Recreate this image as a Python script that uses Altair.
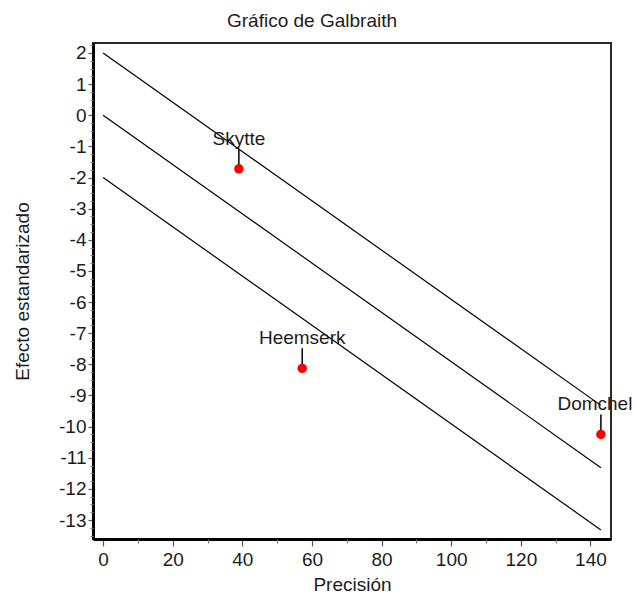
import altair as alt
import pandas as pd
import numpy as np

# Studies: precision (1/SE) and standardized effect (estimate/SE)
studies = ["Skytte", "Heemserk", "Domchel"]
precision = [39.0, 57.2, 143.0]
std_effect = [-1.72, -8.13, -10.25]

# Band offsets around the regression line through the origin
offsets = [2, 0, -2]

x_major = [0, 20, 40, 60, 80, 100, 120, 140]
x_minor = [10, 30, 50, 70, 90, 110, 130]
y_major = list(range(-13, 3))
y_minor = [v / 4 for v in range(-54, 10) if v % 4 != 0]

FONT = "Liberation Sans"
FS = 19
TXT = "#1c1c1c"
PLAIN = "datum.value + ''"  # ASCII hyphen for negative numbers

pts = pd.DataFrame({"study": studies, "prec": precision, "z": std_effect})

# Slope of the Galbraith regression line (through the origin)
p = np.array(precision)
z = np.array(std_effect)
slope = float((p * z).sum() / (p * p).sum())
pmax = float(p.max())

rows = []
for off in offsets:
    for xv in (0.0, pmax):
        rows.append({"band": str(off), "prec": xv, "z": off + slope * xv})
lines_df = pd.DataFrame(rows)

xs = alt.Scale(domain=[-2.9, 145.9], nice=False, zero=False)
ys = alt.Scale(domain=[-13.61, 2.32], nice=False, zero=False)

x_axis = alt.Axis(
    values=x_major, title="Precisión", titleFont=FONT, titleFontSize=FS,
    titleFontWeight="normal", titleColor=TXT, titlePadding=6,
    labelFont=FONT, labelFontSize=FS, labelColor=TXT, labelPadding=4,
    labelExpr=PLAIN,
    tickSize=7, tickWidth=1.2, tickColor="#555", domainWidth=3,
    domainColor="black", grid=False, orient="bottom",
)
y_axis = alt.Axis(
    values=y_major, title="Efecto estandarizado", titleFont=FONT,
    titleFontSize=FS, titleFontWeight="normal", titleColor=TXT,
    titlePadding=26, labelFont=FONT, labelFontSize=FS, labelColor=TXT,
    labelPadding=2, labelExpr=PLAIN, tickSize=5, tickWidth=1.2,
    tickColor="#555", domainWidth=3, domainColor="black", grid=False,
    orient="left",
)
x_minor_axis = alt.Axis(
    values=x_minor, labels=False, title=None, tickSize=4, tickWidth=1,
    tickColor="#777", domain=False, grid=False, orient="bottom",
)
y_minor_axis = alt.Axis(
    values=y_minor, labels=False, title=None, tickSize=3, tickWidth=1,
    tickColor="#777", domain=False, grid=False, orient="left",
)

lines = alt.Chart(lines_df).mark_line(color="black", strokeWidth=1.2).encode(
    x=alt.X("prec:Q", scale=xs, axis=x_axis),
    y=alt.Y("z:Q", scale=ys, axis=y_axis),
    detail="band:N",
)

minor = alt.Chart(pts).mark_point(opacity=0).encode(
    x=alt.X("prec:Q", scale=xs, axis=x_minor_axis),
    y=alt.Y("z:Q", scale=ys, axis=y_minor_axis),
)

leaders = alt.Chart(pts).mark_rule(
    color="black", strokeWidth=1.5, yOffset=-20, y2Offset=-2
).encode(
    x=alt.X("prec:Q", scale=xs, axis=None),
    y=alt.Y("z:Q", scale=ys, axis=None),
    y2="z:Q",
)

dots = alt.Chart(pts).mark_point(
    shape="circle", filled=True, color="#ff0000", opacity=1, size=90
).encode(
    x=alt.X("prec:Q", scale=xs, axis=None),
    y=alt.Y("z:Q", scale=ys, axis=None),
)

label_enc = dict(
    x=alt.X("prec:Q", scale=xs, axis=None),
    y=alt.Y("z:Q", scale=ys, axis=None),
    text="study:N",
)
# Labels near the right edge are nudged left so they stay on the canvas
labels_inner = alt.Chart(pts).transform_filter("datum.prec < 140").mark_text(
    font=FONT, fontSize=FS, color=TXT, dy=-30, baseline="middle"
).encode(**label_enc)
labels_edge = alt.Chart(pts).transform_filter("datum.prec >= 140").mark_text(
    font=FONT, fontSize=FS, color=TXT, dy=-30, dx=-6, baseline="middle"
).encode(**label_enc)

chart = (
    alt.layer(lines, minor, leaders, dots, labels_inner, labels_edge)
    .resolve_axis(x="independent", y="independent")
    .properties(
        width=518,
        height=496,
        autosize=alt.AutoSizeParams(type="none"),
        padding={"left": 93, "top": 43, "right": 24, "bottom": 55},
        title=alt.TitleParams(
            "Gráfico de Galbraith", font=FONT, fontSize=FS,
            fontWeight="normal", color=TXT, anchor="middle", dx=-40,
            offset=12,
        ),
        background="white",
    )
    .configure_view(stroke="#2a2a2a", strokeWidth=2)
)

chart.save("out.html", embed_options={"renderer": "svg", "actions": False})
